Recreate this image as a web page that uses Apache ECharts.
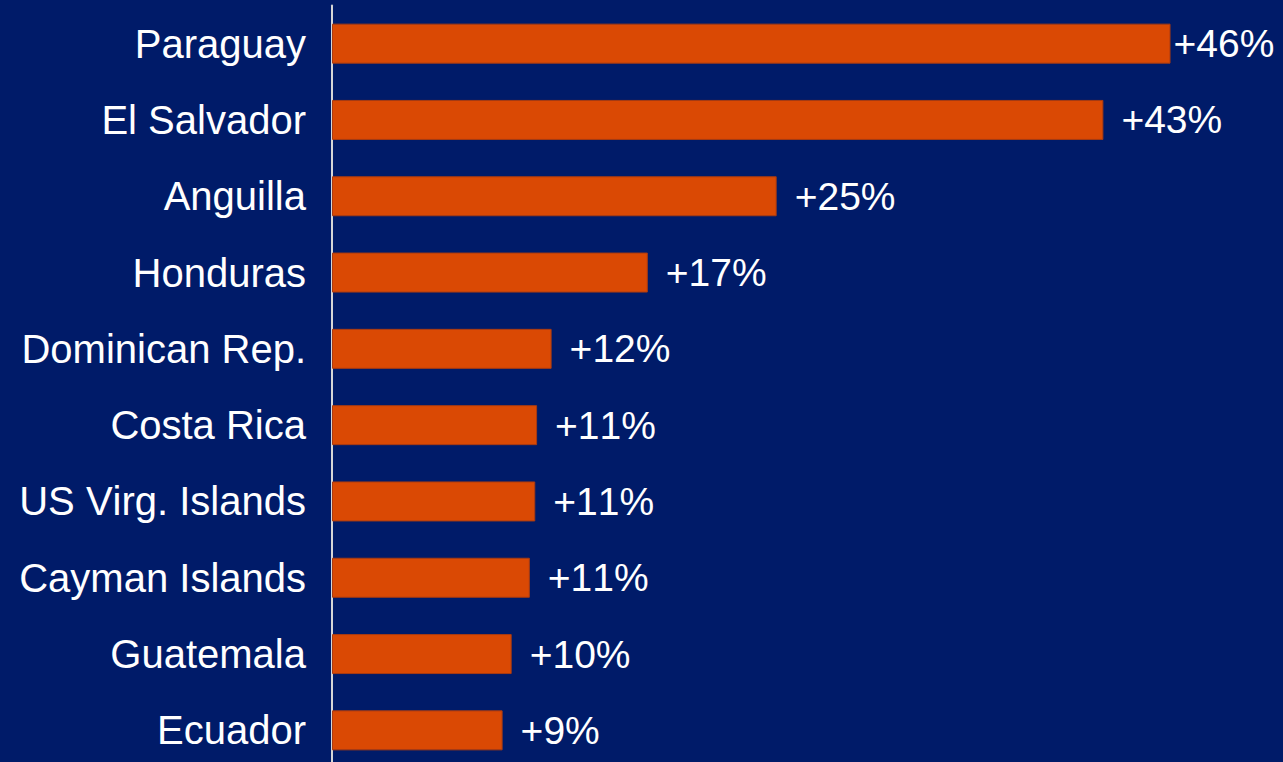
<!DOCTYPE html>
<html>
<head>
<meta charset="utf-8">
<script src="https://cdn.jsdelivr.net/npm/echarts@6/dist/echarts.min.js"></script>
<style>
    html, body { margin: 0; padding: 0; background: #001b69; }
    #chart { width: 1283px; height: 762px; }
    #chart svg text { font-kerning: none; }
</style>
</head>
<body>
<div id="chart"></div>
<script>
// Countries, top to bottom
const countries = ['Paraguay', 'El Salvador', 'Anguilla', 'Honduras', 'Dominican Rep.',
    'Costa Rica', 'US Virg. Islands', 'Cayman Islands', 'Guatemala', 'Ecuador'];
// Growth in percent
const growth = [46.2, 42.5, 24.5, 17.4, 12.1, 11.3, 11.2, 10.9, 9.9, 9.4];
// Printed labels
const growthLabels = ['+46%', '+43%', '+25%', '+17%', '+12%', '+11%', '+11%', '+11%', '+10%', '+9%'];

const chart = echarts.init(document.getElementById('chart'), null, { renderer: 'svg' });

const option = {
    backgroundColor: '#001b69',
    animation: false,
    grid: {
        left: 332,
        right: 43.5,
        top: 5.5,
        height: 763,
        containLabel: false,
        outerBoundsMode: 'none'
    },
    xAxis: {
        type: 'value',
        min: 0,
        max: 50,
        show: false
    },
    yAxis: {
        type: 'category',
        inverse: true,
        offset: 2,
        data: countries,
        axisLine: { show: true, lineStyle: { color: '#d6d6d6', width: 2 } },
        axisTick: { show: false },
        axisLabel: {
            color: '#ffffff',
            fontFamily: 'Liberation Sans, Arial, sans-serif',
            fontSize: 40,
            margin: 24
        }
    },
    series: [{
        type: 'bar',
        barWidth: 40,
        itemStyle: {
            color: '#da4904',
            borderColor: '#a83b12',
            borderWidth: 1
        },
        label: {
            show: true,
            position: 'right',
            distance: 18,
            color: '#ffffff',
            fontFamily: 'Liberation Sans, Arial, sans-serif',
            fontSize: 39,
            formatter: p => growthLabels[p.dataIndex]
        },
        data: growth.map((v, i) => i === 0 ? { value: v, label: { distance: 3 } } : v)
    }]
};

chart.setOption(option);
window.addEventListener('resize', () => chart.resize());
</script>
</body>
</html>
